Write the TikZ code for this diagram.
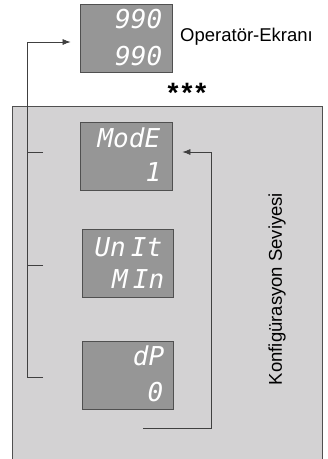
\documentclass[tikz,border=0pt]{standalone}
\usepackage{fontspec}
\setmainfont{Liberation Sans}
\newfontfamily\segfont{DejaVu Sans Mono}
\usetikzlibrary{calc,arrows.meta}

\definecolor{panelgray}{RGB}{211,210,211}
\definecolor{dispgray}{RGB}{150,150,150}
\definecolor{edgegray}{RGB}{80,80,80}

\tikzset{
  disp/.style={draw=edgegray, fill=dispgray, line width=0.8pt, minimum width=92pt, minimum height=68pt, inner sep=0pt},
  seg/.style={text=white, anchor=east, inner sep=0pt, font=\segfont\itshape\fontsize{26}{26}\selectfont},
  lbl/.style={font=\fontsize{18.5}{20}\selectfont, inner sep=0pt},
  wire/.style={draw=black!75, line width=0.7pt},
  tip/.style={-{Latex[length=8pt,width=6pt]}}
}

\begin{document}
\begin{tikzpicture}[x=1pt,y=-1pt]
\useasboundingbox (0,0) rectangle (328,459);
\clip (0,0) rectangle (328,459);
\coordinate (o) at (0,0); % top left corner, y runs downwards

% Konfigurasyon panel
\draw[draw=edgegray, fill=panelgray, line width=0.8pt] ($ (o) + (12.5,106) $) rectangle ($ (o) + (322,470) $);
\node[lbl, rotate=90] (panel_label) at ($ (o) + (277,289) $) {Konfigürasyon Seviyesi};

% Operator screen
\node[disp] (top_disp) at ($ (o) + (126,38) $) {};
\node[seg] (top_row1) at ($ (top_disp.north east) + (-10,15) $) {990};
\node[seg] (top_row2) at ($ (top_disp.north east) + (-10,52) $) {990};
\node[lbl, anchor=west] (top_label) at ($ (o) + (180,37) $) {Operatör-Ekranı};
\node[font=\bfseries\fontsize{28}{28}\selectfont, inner sep=0pt] (stars) at ($ (o) + (187,93) $) {*\kern3pt*\kern3pt*};

% Parameter displays
\node[disp] (mode_disp) at ($ (o) + (126,156) $) {};
\node[seg] (mode_row1) at ($ (mode_disp.north east) + (-12,16) $) {ModE};
\node[seg] (mode_row2) at ($ (mode_disp.north east) + (-11,50) $) {1};

\node[disp, minimum width=91pt] (unit_disp) at ($ (o) + (127.5,263) $) {};
\node[seg] (unit_row1) at ($ (unit_disp.north east) + (-11,19) $) {Un\kern5pt It};
\node[seg] (unit_row2) at ($ (unit_disp.north east) + (-9,50) $) {M\kern5pt In};

\node[disp, minimum width=91pt] (dp_disp) at ($ (o) + (127.5,375) $) {};
\node[seg] (dp_row1) at ($ (dp_disp.north east) + (-9,15) $) {dP};
\node[seg] (dp_row2) at ($ (dp_disp.north east) + (-10,51) $) {0};

% Left rail back to the operator screen
\coordinate (mode_tick) at ($ (o) + (43,152) $);
\coordinate (unit_tick) at ($ (o) + (43,265) $);
\coordinate (dp_tick) at ($ (o) + (43,377) $);
\coordinate (rail_top) at ($ (o) + (27,42) $);
\draw[wire,tip,shorten >=9pt] (dp_tick) -| (rail_top) -- (rail_top -| top_disp.west);
\draw[wire] (mode_tick) -- (mode_tick -| rail_top);
\draw[wire] (unit_tick) -- (unit_tick -| rail_top);

% Loop from the last parameter back to the first
\coordinate (loop_start) at ($ (o) + (143,428) $);
\coordinate (loop_corner) at ($ (o) + (211,428) $);
\draw[wire,tip,shorten >=10pt] (loop_start) -- (loop_corner) |- (mode_tick -| mode_disp.east);
\end{tikzpicture}
\end{document}
